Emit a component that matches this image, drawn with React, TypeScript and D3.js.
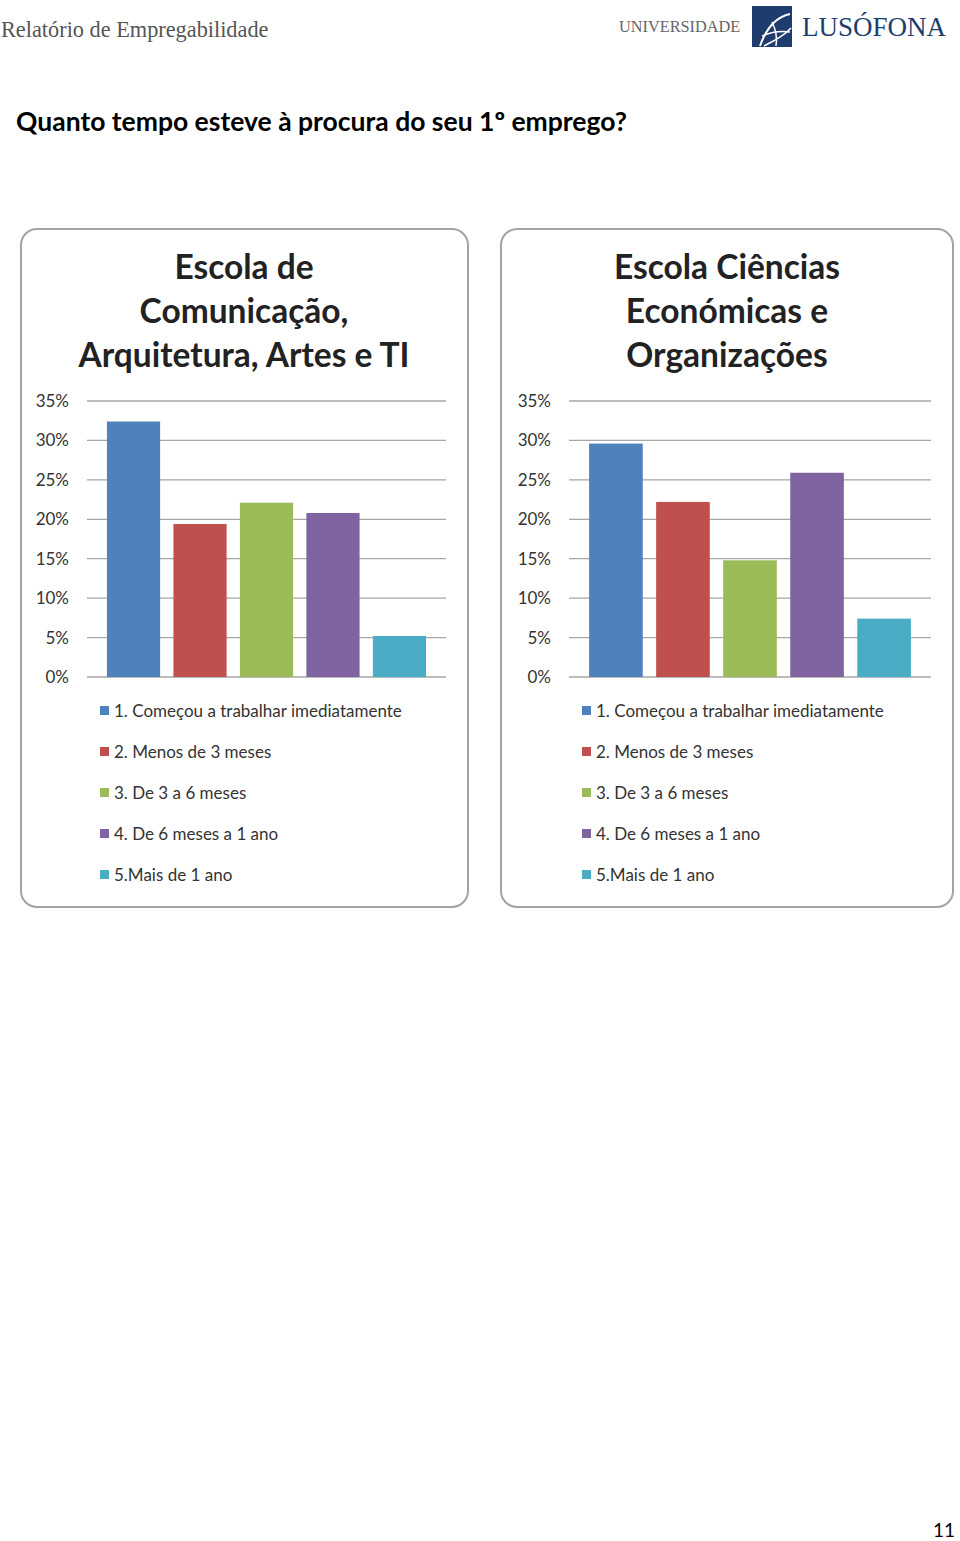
import * as d3 from "d3";

// categorias (legenda)
const categories = [
  "1. Começou a trabalhar imediatamente",
  "2. Menos de 3 meses",
  "3. De 3 a 6 meses",
  "4. De 6 meses a 1 ano",
  "5.Mais de 1 ano",
];
const colors = ["#4f81bd", "#c0504d", "#9bbb59", "#8064a2", "#4bacc6"];

// valores (%)
const valuesComunicacao = [32.4, 19.4, 22.1, 20.8, 5.2];
const valuesEconomicas = [29.6, 22.2, 14.8, 25.9, 7.4];

const yTicks = [0, 5, 10, 15, 20, 25, 30, 35];

const titleComunicacao = ["Escola de", "Comunicação,", "Arquitetura, Artes e TI"];
const titleEconomicas = ["Escola Ciências", "Económicas e", "Organizações"];

const calibri = "Lato, 'Open Sans', sans-serif";

type PanelProps = {
  x: number;
  w: number;
  plotX0: number;
  plotX1: number;
  titleX: number;
  title: string[];
  values: number[];
};

function Panel({ x, w, plotX0, plotX1, titleX, title, values }: PanelProps) {
  const top = 229;
  const bottom = 907;
  const y = d3.scaleLinear().domain([0, 35]).range([677, 401]);
  const xb = d3
    .scaleBand<number>()
    .domain(d3.range(values.length))
    .range([plotX0, plotX1])
    .paddingInner(0.2)
    .paddingOuter(0.3);
  const legendX = plotX0 + 13;
  const legendY = d3.scalePoint<number>().domain(d3.range(categories.length)).range([711, 875]);

  return (
    <g>
      <rect x={x} y={top} width={w} height={bottom - top} rx={16} ry={16}
        fill="#fff" stroke="#a3a3a3" strokeWidth={2} />
      {title.map((t, i) => (
        <text key={i} x={titleX} y={279 + i * 44} textAnchor="middle"
          fontFamily={calibri} fontWeight={700} fontSize={33.5} fill="#222">{t}</text>
      ))}
      {yTicks.map((t) => (
        <g key={t}>
          <line x1={plotX0} x2={plotX1} y1={y(t)} y2={y(t)} stroke="#a6a6a6" strokeWidth={1.3} />
          <text x={plotX0 - 18} y={y(t) + 6} textAnchor="end" fontFamily={calibri}
            fontSize={17} fill="#333">{t}%</text>
        </g>
      ))}
      {values.map((v, i) => (
        <rect key={i} x={xb(i)} y={y(v)} width={xb.bandwidth()} height={y(0) - y(v)} fill={colors[i]} />
      ))}
      {categories.map((c, i) => (
        <g key={c}>
          <rect x={legendX} y={legendY(i)! - 5} width={9} height={9} fill={colors[i]} />
          <text x={legendX + 14} y={legendY(i)! + 6} fontFamily={calibri} fontSize={17} fill="#333">{c}</text>
        </g>
      ))}
    </g>
  );
}

export default function App() {
  return (
    <svg width={960} height={1541} style={{ position: "absolute", left: 0, top: 0, background: "#fff" }}>
      <text x={1} y={37} fontFamily="'Liberation Serif', serif" fontSize={22.3} fill="#555">
        Relatório de Empregabilidade
      </text>
      <text x={619} y={32} fontFamily="'Liberation Serif', serif" fontSize={16.3} fill="#666">
        UNIVERSIDADE
      </text>
      <g>
        <rect x={752} y={6} width={40} height={41} fill="#1e3d6e" />
        <path d="M760,46 Q770,18 790,14" fill="none" stroke="#fff" strokeWidth={2} />
        <path d="M764,46 Q784,36 791,28" fill="none" stroke="#fff" strokeWidth={1.5} />
        <path d="M772,22 Q778,34 776,46" fill="none" stroke="#fff" strokeWidth={1.5} />
        <path d="M762,36 Q776,30 790,32" fill="none" stroke="#fff" strokeWidth={1.5} />
      </g>
      <text x={802} y={36} fontFamily="'Liberation Serif', serif" fontSize={27} fill="#1e3d6e">
        LUSÓFONA
      </text>

      <text x={16} y={131} fontFamily={calibri} fontWeight={700} fontSize={26.5} fill="#000">
        Quanto tempo esteve à procura do seu 1º emprego?
      </text>

      <Panel x={21} w={447} plotX0={87} plotX1={446} titleX={244}
        title={titleComunicacao} values={valuesComunicacao} />
      <Panel x={501} w={452} plotX0={569} plotX1={931} titleX={727}
        title={titleEconomicas} values={valuesEconomicas} />

      <text x={955} y={1537} textAnchor="end" fontFamily={calibri} fontSize={19} fill="#000">11</text>
    </svg>
  );
}
